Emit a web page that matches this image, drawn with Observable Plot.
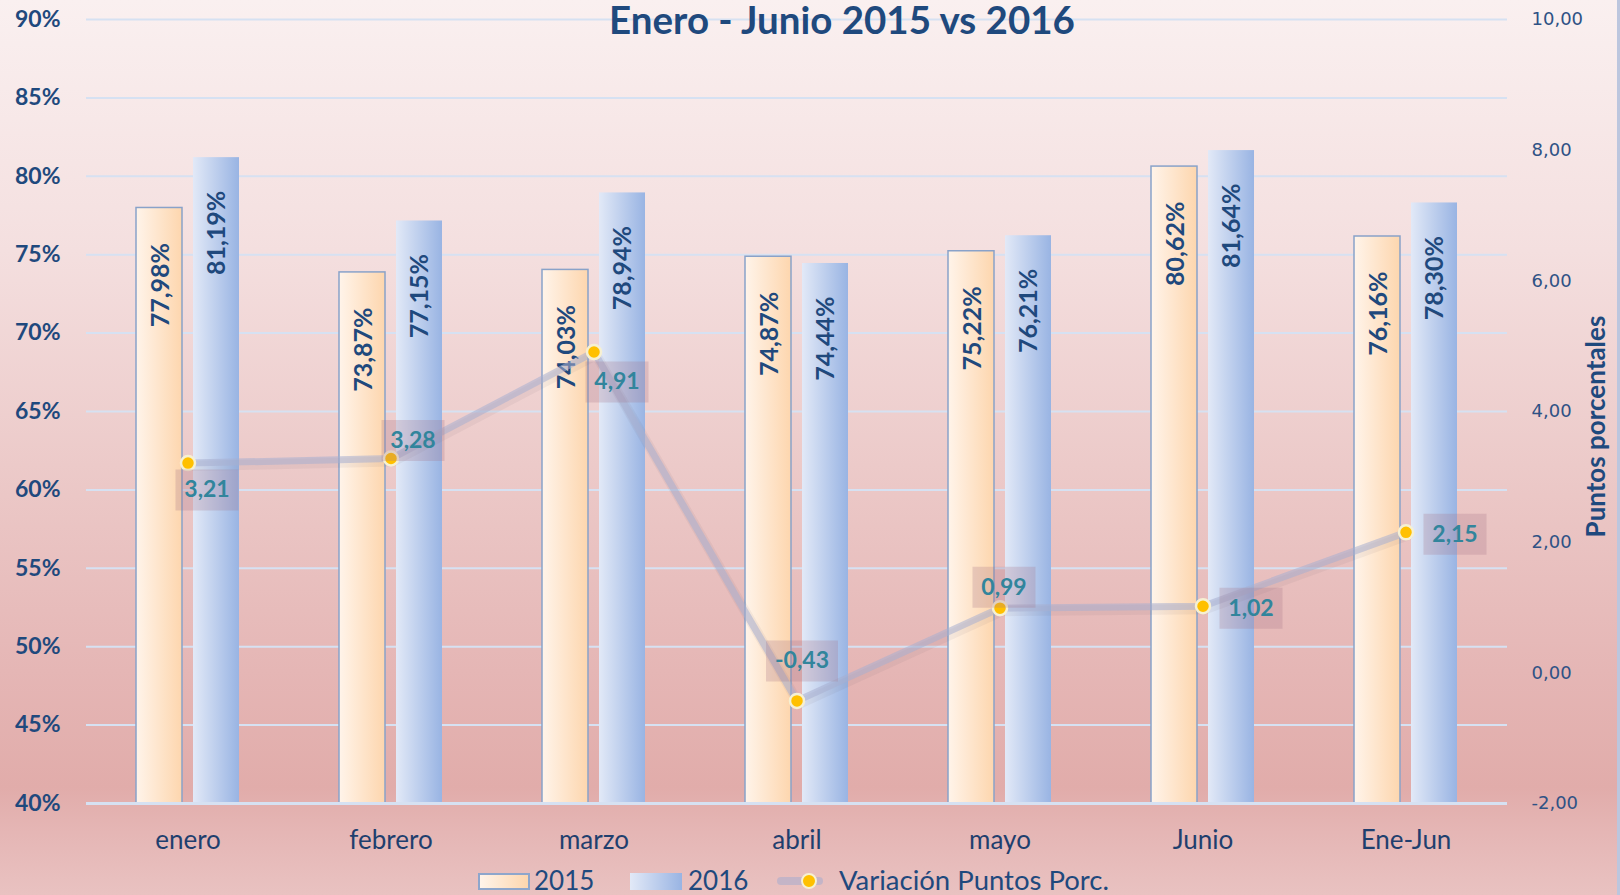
<!DOCTYPE html>
<html>
<head>
<meta charset="utf-8">
<script src="https://cdn.jsdelivr.net/npm/d3@7"></script>
<script src="https://cdn.jsdelivr.net/npm/@observablehq/plot@0.6"></script>
<style>
  html, body { margin: 0; padding: 0; }
  #chart {
    position: relative; width: 1620px; height: 895px; overflow: hidden;
    background: linear-gradient(to bottom, #faf0f0 0%, #f4dfdf 28%, #eccac9 52%, #e5b6b5 75%, #e1acaa 88%, #e5b6b5 93%, #e9c2c1 100%);
    font-family: Lato, sans-serif;
  }
  #chart::after { content: ""; position: absolute; right: 0; top: 0; width: 3px; height: 100%; background: #bcc6de; }
  #plot { position: absolute; left: 0; top: 0; }
  #title { position: absolute; left: 0; width: 1684px; top: 0px; text-align: center;
    font: bold 38.5px/1 Lato, sans-serif; color: #1f497d; white-space: nowrap; }
  .lg { position: absolute; }
  .lt { font: 26px/1 Lato, sans-serif; color: #1f497d; top: 867px; white-space: nowrap; }
  .s15 { left: 478px; top: 873px; width: 48px; height: 13px; border: 2px solid #8ea6cc;
    background: linear-gradient(to right, #fff4ea, #fdd6ae); }
  .s16 { left: 630px; top: 873px; width: 52px; height: 17px;
    background: linear-gradient(to right, #e2e9f7, #99b4e3); }
  .ln { left: 777px; top: 877px; width: 46px; height: 8px; border-radius: 4px; background: rgba(165,172,205,0.55); }
  .dt { left: 801px; top: 873px; width: 12px; height: 12px; border-radius: 50%; background: #ffc000; border: 2px solid #f6f0d2; }
</style>
</head>
<body>
<div id="chart">
  <div id="plot"></div>
  <div id="title">Enero - Junio 2015 vs 2016</div>
  <div class="lg s15"></div><div class="lg lt" style="left:534px">2015</div>
  <div class="lg s16"></div><div class="lg lt" style="left:688px">2016</div>
  <div class="lg ln"></div><div class="lg dt"></div>
  <div class="lg lt" style="left:839px;font-size:27.5px;top:866px">Variación Puntos Porc.</div>
</div>
<script>
// ---- data ----
const categories = ["enero", "febrero", "marzo", "abril", "mayo", "Junio", "Ene-Jun"];
const values2015 = [77.98, 73.87, 74.03, 74.87, 75.22, 80.62, 76.16];
const values2016 = [81.19, 77.15, 78.94, 74.44, 76.21, 81.64, 78.30];
const variation = [3.21, 3.28, 4.91, -0.43, 0.99, 1.02, 2.15];
const leftTicks = [40, 45, 50, 55, 60, 65, 70, 75, 80, 85, 90];
const rightTicks = [-2, 0, 2, 4, 6, 8, 10];

// label nudges (pixels) for the variation labels
const labelNudge = [[19, 27], [22, -18], [23, 30], [5, -40], [4, -21], [48, 2], [49, 2]];

const rows = categories.map((c, i) => ({cat: c, v15: values2015[i], v16: values2016[i], dv: variation[i]}));

// secondary axis mapping: right scale [-2, 10] onto left scale [40, 90]
const yR = v => 40 + (v + 2) * 50 / 12;
const yRinv = d => (d - 40) * 12 / 50 - 2;
const fmt = v => v.toFixed(2).replace(".", ",");

const boxSymbol = w => ({draw(ctx) { ctx.rect(-w / 2, -20.5, w, 41); }});

const labelMarks = [];
rows.forEach((r, k) => {
  const [dx, dy] = labelNudge[k];
  const w = fmt(r.dv).length > 4 ? 72 : 63;
  labelMarks.push(Plot.dot([r], {x: "cat", y: d => yR(d.dv), r: 10, symbol: boxSymbol(w), fill: "rgba(165,115,135,0.26)", stroke: "none", dx, dy, ariaLabel: "labelbox"}));
  labelMarks.push(Plot.text([r], {x: "cat", y: d => yR(d.dv), text: d => fmt(d.dv), dx, dy, fill: "#31859c", fontWeight: "bold", fontSize: 23, fontFamily: "Lato", lineAnchor: "middle"}));
});

const plot = Plot.plot({
  width: 1620, height: 850,
  marginLeft: 86, marginRight: 113, marginTop: 19, marginBottom: 47,
  style: {background: "transparent", overflow: "visible", fontFamily: "Lato"},
  x: {domain: categories, paddingInner: 0.4926, paddingOuter: 0.2463, axis: null},
  y: {domain: [40, 90], axis: null},
  marks: [
    Plot.gridY(leftTicks, {stroke: "#d6e1f2", strokeOpacity: 1, strokeWidth: 2}),
    Plot.barY(rows, {x: "cat", y1: 40, y2: "v15", insetRight: 57, fill: "url(#g2015)", stroke: "#89a2c9", strokeWidth: 1.5}),
    Plot.barY(rows, {x: "cat", y1: 40, y2: "v16", insetLeft: 57, fill: "url(#g2016)"}),
    Plot.ruleY([40], {stroke: "#d6e1f2", strokeWidth: 3}),
    Plot.text(rows, {x: "cat", y: "v15", text: d => fmt(d.v15) + "%", rotate: -90, textAnchor: "end", lineAnchor: "middle", dx: -27.5, dy: 35, fill: "#1f497d", fontWeight: "bold", fontSize: 25, fontFamily: "Lato"}),
    Plot.text(rows, {x: "cat", y: "v16", text: d => fmt(d.v16) + "%", rotate: -90, textAnchor: "end", lineAnchor: "middle", dx: 29, dy: 33, fill: "#1f497d", fontWeight: "bold", fontSize: 25, fontFamily: "Lato"}),
    // soft shadow under the variation line
    Plot.line(rows, {x: "cat", y: d => yR(d.dv), stroke: "#6a5060", strokeOpacity: 0.07, strokeWidth: 10, dx: 2, dy: 3}),
    Plot.line(rows, {x: "cat", y: d => yR(d.dv), stroke: "#a7aed0", strokeOpacity: 0.55, strokeWidth: 7}),
    Plot.dot(rows, {x: "cat", y: d => yR(d.dv), r: 7, fill: "#ffc000", stroke: "#f6f0d2", strokeWidth: 2.5}),
    ...labelMarks,
    Plot.axisY(leftTicks, {anchor: "left", tickSize: 0, tickPadding: 26, tickFormat: d => d + "%", fontSize: 23, fontWeight: "bold", fontFamily: "Lato", color: "#1f497d", label: null}),
    Plot.axisY(rightTicks.map(yR), {anchor: "right", tickSize: 0, tickPadding: 24, tickFormat: d => fmt(Math.round(yRinv(d) * 100) / 100), fontSize: 18, fontFamily: "DejaVu Sans", color: "#2f5285", label: null}),
    Plot.axisX({tickSize: 0, tickPadding: 27, fontSize: 26, fontFamily: "Lato", color: "#1f3f6e", label: null}),
    Plot.text(["Puntos porcentales"], {frameAnchor: "right", dx: 89, dy: 15, rotate: -90, textAnchor: "middle", fill: "#1f497d", fontWeight: "bold", fontSize: 26, fontFamily: "Lato", lineAnchor: "middle"})
  ]
});

// gradients and shadow
const svg = d3.select(plot.tagName.toLowerCase() === "svg" ? plot : plot.querySelector("svg"));
const defs = svg.insert("defs", ":first-child");
const g1 = defs.append("linearGradient").attr("id", "g2015").attr("x1", "0").attr("x2", "1").attr("y1", "0").attr("y2", "0");
g1.append("stop").attr("offset", "0").attr("stop-color", "#fff4ea");
g1.append("stop").attr("offset", "1").attr("stop-color", "#fdd6ae");
const g2 = defs.append("linearGradient").attr("id", "g2016").attr("x1", "0").attr("x2", "1").attr("y1", "0").attr("y2", "0");
g2.append("stop").attr("offset", "0").attr("stop-color", "#e2e9f7");
g2.append("stop").attr("offset", "1").attr("stop-color", "#99b4e3");
const f = defs.append("filter").attr("id", "shadow").attr("x", "-30%").attr("y", "-30%").attr("width", "160%").attr("height", "160%");
f.append("feDropShadow").attr("dx", 2).attr("dy", 3).attr("stdDeviation", 3).attr("flood-color", "#000").attr("flood-opacity", 0.18);
svg.selectAll('g[aria-label="labelbox"]').attr("filter", "url(#shadow)");

document.getElementById("plot").appendChild(plot);
</script>
</body>
</html>
